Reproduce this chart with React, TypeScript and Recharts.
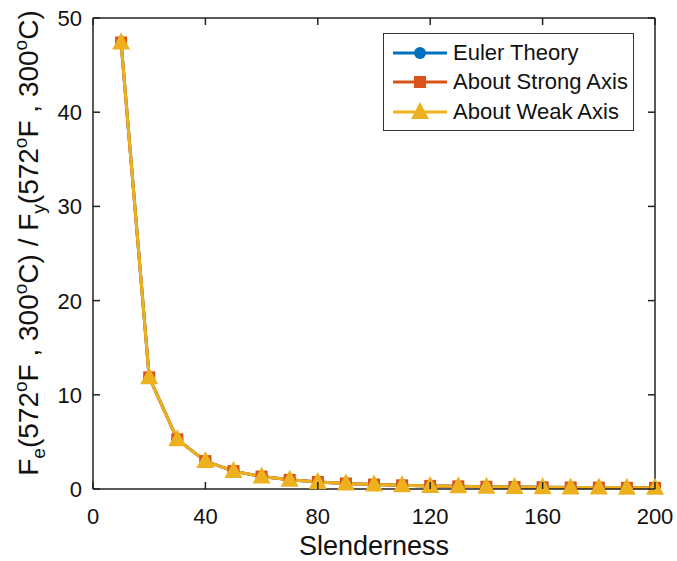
import React from 'react';
import { LineChart, Line, XAxis, YAxis } from 'recharts';

const slenderness = [10, 20, 30, 40, 50, 60, 70, 80, 90, 100, 110, 120, 130, 140, 150, 160, 170, 180, 190, 200];
const eulerTheory = [47.4, 11.85, 5.27, 2.96, 1.9, 1.32, 0.97, 0.74, 0.59, 0.47, 0.39, 0.33, 0.28, 0.24, 0.21, 0.19, 0.16, 0.15, 0.13, 0.12];
const strongAxis = [47.4, 11.85, 5.27, 2.96, 1.9, 1.32, 0.97, 0.74, 0.59, 0.47, 0.39, 0.33, 0.28, 0.24, 0.21, 0.19, 0.16, 0.15, 0.13, 0.12];
const weakAxis = [47.4, 11.85, 5.27, 2.96, 1.9, 1.32, 0.97, 0.74, 0.59, 0.47, 0.39, 0.33, 0.28, 0.24, 0.21, 0.19, 0.16, 0.15, 0.13, 0.12];
const xTicks = [0, 40, 80, 120, 160, 200];
const yTicks = [0, 10, 20, 30, 40, 50];

const BLUE = '#0072BD';
const ORANGE = '#D95319';
const YELLOW = '#EDB120';
const FONT = '"Liberation Sans", Arial, sans-serif';
const TICK = 7;

const data = slenderness.map((s, i) => ({
  s,
  euler: eulerTheory[i],
  strong: strongAxis[i],
  weak: weakAxis[i],
}));

// markers
const CircleDot = (p: any) => <circle key={p.index} cx={p.cx} cy={p.cy} r={6} fill={BLUE} />;
const SquareDot = (p: any) => <rect key={p.index} x={p.cx - 6} y={p.cy - 6} width={12} height={12} fill={ORANGE} />;
const TriDot = (p: any) => (
  <polygon key={p.index} points={`${p.cx},${p.cy - 10} ${p.cx - 9},${p.cy + 7} ${p.cx + 9},${p.cy + 7}`} fill={YELLOW} />
);

const BottomTick = (p: any) => (
  <g>
    <line x1={p.x} y1={p.y} x2={p.x} y2={p.y - TICK} stroke="#222" strokeWidth={1.5} />
    <text x={p.x} y={p.y + 35} textAnchor="middle" fontSize={22} fontFamily={FONT} fill="#111">
      {p.payload.value}
    </text>
  </g>
);
const TopTick = (p: any) => <line x1={p.x} y1={p.y} x2={p.x} y2={p.y + TICK} stroke="#222" strokeWidth={1.5} />;
const LeftTick = (p: any) => (
  <g>
    <line x1={p.x} y1={p.y} x2={p.x + TICK} y2={p.y} stroke="#222" strokeWidth={1.5} />
    <text x={p.x - 11} y={p.y + 8} textAnchor="end" fontSize={22} fontFamily={FONT} fill="#111">
      {p.payload.value}
    </text>
  </g>
);
const RightTick = (p: any) => <line x1={p.x} y1={p.y} x2={p.x - TICK} y2={p.y} stroke="#222" strokeWidth={1.5} />;

const legendItems = [
  { name: 'Euler Theory', color: BLUE, shape: 'circle' },
  { name: 'About Strong Axis', color: ORANGE, shape: 'square' },
  { name: 'About Weak Axis', color: YELLOW, shape: 'triangle' },
];

const LegendBox = () => (
  <div
    style={{
      position: 'absolute',
      left: 383,
      top: 33,
      width: 251,
      boxSizing: 'border-box',
      border: '1.5px solid #333',
      background: '#fff',
      padding: '4px 0 3px 9px',
      fontFamily: FONT,
      fontSize: 22,
      color: '#111',
    }}
  >
    {legendItems.map((it) => (
      <div key={it.name} style={{ display: 'flex', alignItems: 'center', height: 29.5 }}>
        <svg width={54} height={24} style={{ marginRight: 6, flex: 'none' }}>
          <line x1={0} y1={12} x2={54} y2={12} stroke={it.color} strokeWidth={3} />
          {it.shape === 'circle' && <circle cx={27} cy={12} r={6} fill={it.color} />}
          {it.shape === 'square' && <rect x={21} y={6} width={12} height={12} fill={it.color} />}
          {it.shape === 'triangle' && <polygon points="27,2 18,19 36,19" fill={it.color} />}
        </svg>
        <span style={{ whiteSpace: 'nowrap' }}>{it.name}</span>
      </div>
    ))}
  </div>
);

export default function App() {
  return (
    <div style={{ position: 'absolute', left: 0, top: 0, width: 677, height: 561, background: '#fff' }}>
      <LineChart width={677} height={561} data={data} margin={{ top: 17, right: 21, left: 33, bottom: 12 }}>
        <XAxis
          dataKey="s"
          type="number"
          domain={[0, 200]}
          ticks={xTicks}
          tickSize={0}
          tickMargin={0}
          tickLine={false}
          axisLine={{ stroke: '#222', strokeWidth: 1.5 }}
          tick={<BottomTick />}
          height={60}
          interval={0}
        />
        <XAxis
          xAxisId="top"
          orientation="top"
          dataKey="s"
          type="number"
          domain={[0, 200]}
          ticks={xTicks}
          tickSize={0}
          tickMargin={0}
          tickLine={false}
          axisLine={{ stroke: '#222', strokeWidth: 1.5 }}
          tick={<TopTick />}
          height={1}
          interval={0}
        />
        <YAxis
          type="number"
          domain={[0, 50]}
          ticks={yTicks}
          tickSize={0}
          tickMargin={0}
          tickLine={false}
          axisLine={{ stroke: '#222', strokeWidth: 1.5 }}
          tick={<LeftTick />}
          width={60}
          interval={0}
        />
        <YAxis
          yAxisId="right"
          orientation="right"
          type="number"
          domain={[0, 50]}
          ticks={yTicks}
          tickSize={0}
          tickMargin={0}
          tickLine={false}
          axisLine={{ stroke: '#222', strokeWidth: 1.5 }}
          tick={<RightTick />}
          width={1}
          interval={0}
        />
        <Line xAxisId="top" yAxisId="right" dataKey="euler" name="Euler Theory" stroke={BLUE} strokeWidth={3} dot={CircleDot} activeDot={false} isAnimationActive={false} />
        <Line dataKey="strong" name="About Strong Axis" stroke={ORANGE} strokeWidth={3} dot={SquareDot} activeDot={false} isAnimationActive={false} />
        <Line dataKey="weak" name="About Weak Axis" stroke={YELLOW} strokeWidth={3} dot={TriDot} activeDot={false} isAnimationActive={false} />
        <text x={374} y={555} textAnchor="middle" fontSize={27} fontFamily={FONT} fill="#111">
          Slenderness
        </text>
        <text transform="translate(38, 243) rotate(-90)" textAnchor="middle" fontSize={28} fontFamily={FONT} fill="#111">
          <tspan>F</tspan>
          <tspan fontSize={19} dy={7}>e</tspan>
          <tspan dy={-7}>(572</tspan>
          <tspan fontSize={19} dy={-11}>o</tspan>
          <tspan dy={11}>F , 300</tspan>
          <tspan fontSize={19} dy={-11}>o</tspan>
          <tspan dy={11}>C) / F</tspan>
          <tspan fontSize={19} dy={7}>y</tspan>
          <tspan dy={-7}>(572</tspan>
          <tspan fontSize={19} dy={-11}>o</tspan>
          <tspan dy={11}>F , 300</tspan>
          <tspan fontSize={19} dy={-11}>o</tspan>
          <tspan dy={11}>C)</tspan>
        </text>
      </LineChart>
      <LegendBox />
    </div>
  );
}
